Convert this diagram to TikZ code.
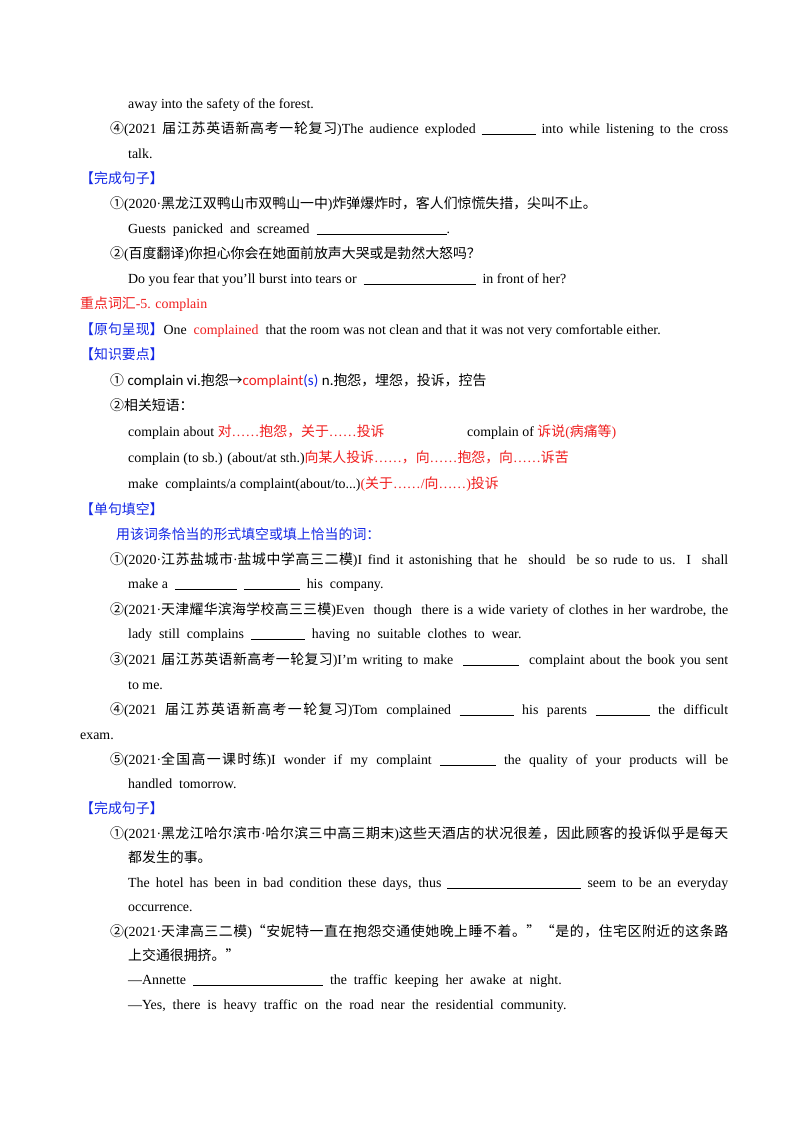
\documentclass[tikz,border=0pt]{standalone}
\usepackage{fontspec}
\setmainfont{Liberation Serif}
\newfontfamily\cjk{Noto Sans CJK SC}
\newfontfamily\carl{Carlito}
\newXeTeXintercharclass\cjkcl
\makeatletter
\def\setcl#1#2{\count255=#1 \loop\XeTeXcharclass\count255=\cjkcl \ifnum\count255<#2 \advance\count255 1 \repeat}
\setcl{"4E00}{"9FFF}
\setcl{"3000}{"303F}
\setcl{"FF00}{"FFEF}
\setcl{"2460}{"24FF}
\setcl{"2190}{"2193}
\XeTeXcharclass"201C=\cjkcl \XeTeXcharclass"201D=\cjkcl
\makeatother
\XeTeXinterchartokenstate=1
\XeTeXinterchartoks 0 \cjkcl = {\cjk}
\XeTeXinterchartoks 4095 \cjkcl = {\cjk}
\XeTeXinterchartoks \cjkcl 0 = {\rmfamily}
\XeTeXinterchartoks \cjkcl 4095 = {\rmfamily}
\XeTeXinterchartoks \cjkcl \cjkcl = {\hskip 0pt plus 0.5pt}
\definecolor{rd}{RGB}{240,30,30}
\definecolor{bl}{RGB}{20,40,230}
\newcommand\bk[1]{\rule[-1.5pt]{#1}{0.5pt}}
\newcommand\J[1]{\makebox[618pt][s]{#1}}
\tikzset{t/.style={anchor=base west,inner sep=0pt,font=\fontsize{13.9}{16}\selectfont}}
\begin{document}
\begin{tikzpicture}[x=1pt,y=-1pt]
\useasboundingbox[fill=white](0,0) rectangle (800,1132);
\node[t] (l1) at (128,108) {away into the safety of the forest.};
\node[t] (l2) at (110,133) {\J{④(2021 届江苏英语新高考一轮复习)The audience exploded \bk{54pt} into while listening to the cross}};
\node[t] (l3) at (128,158) {talk.};
\node[t,text=bl] (l4) at (80,183) {【完成句子】};
\node[t] (l5) at (110,208) {①(2020·黑龙江双鸭山市双鸭山一中)炸弹爆炸时，客人们惊慌失措，尖叫不止。};
\node[t] (l6) at (128,233) {Guests\ \ panicked\ \ and\ \ screamed\ \ \bk{130pt}.};
\node[t] (l7) at (110,258) {②(百度翻译)你担心你会在她面前放声大哭或是勃然大怒吗？};
\node[t] (l8) at (128,283) {Do you fear that you’ll burst into tears or\ \ \bk{112pt}\ \ in front of her?};
\node[t,text=rd] (l9) at (80,308) {重点词汇-5. complain};
\node[t] (l10) at (80,334) {\textcolor{bl}{【原句呈现】}One\ \ \textcolor{rd}{complained}\ \ that the room was not clean and that it was not very comfortable either.};
\node[t,text=bl] (l11) at (80,359) {【知识要点】};
\node[t] (l12) at (110,385) {① {\carl\fontsize{15}{17}\selectfont complain vi.}抱怨→{\carl\fontsize{15}{17}\selectfont\textcolor{rd}{complaint}\textcolor{bl}{(s)}} {\carl\fontsize{15}{17}\selectfont n.}抱怨，埋怨，投诉，控告};
\node[t] (l13) at (110,410) {②相关短语：};
\node[t] (l14) at (128,436) {complain about \textcolor{rd}{对……抱怨，关于……投诉}};
\node[t] (l14b) at (467,436) {complain of \textcolor{rd}{诉说(病痛等)}};
\node[t] (l15) at (128,462) {complain (to sb.) (about/at sth.)\textcolor{rd}{向某人投诉……，向……抱怨，向……诉苦}};
\node[t] (l16) at (128,488) {make\ \ complaints/a complaint(about/to...)\textcolor{rd}{(关于……/向……)投诉}};
\node[t,text=bl] (l17) at (80,514) {【单句填空】};
\node[t,text=bl] (l18) at (116,539) {用该词条恰当的形式填空或填上恰当的词：};
\node[t] (l19) at (110,564) {\J{①(2020·江苏盐城市·盐城中学高三二模)I find it astonishing that he\ \ should\ \ be so rude to us. I\ \ shall}};
\node[t] (l20) at (128,588) {make a\ \ \bk{62pt}\ \ \bk{56pt}\ \ his\ \ company.};
\node[t] (l21) at (110,614) {\J{②(2021·天津耀华滨海学校高三三模)Even\ \ though\ \ there is a wide variety of clothes in her wardrobe, the}};
\node[t] (l22) at (128,638) {lady\ \ still\ \ complains\ \ \bk{54pt}\ \ having\ \ no\ \ suitable\ \ clothes\ \ to\ \ wear.};
\node[t] (l23) at (110,664) {\J{③(2021 届江苏英语新高考一轮复习)I’m writing to make\ \ \bk{56pt}\ \ complaint about the book you sent}};
\node[t] (l24) at (128,689) {to me.};
\node[t] (l25) at (110,714) {\J{④(2021 届江苏英语新高考一轮复习)Tom complained \bk{54pt} his parents \bk{54pt} the difficult}};
\node[t] (l26) at (80,739) {exam.};
\node[t] (l27) at (110,764) {\J{⑤(2021·全国高一课时练)I wonder if my complaint \bk{56pt} the quality of your products will be}};
\node[t] (l28) at (128,788) {handled\ \ tomorrow.};
\node[t,text=bl] (l29) at (80,813) {【完成句子】};
\node[t] (l30) at (110,838) {\J{①(2021·黑龙江哈尔滨市·哈尔滨三中高三期末)这些天酒店的状况很差，因此顾客的投诉似乎是每天}};
\node[t] (l31) at (128,862) {都发生的事。};
\node[t] (l32) at (128,887) {\makebox[600pt][s]{The hotel has been in bad condition these days, thus \bk{134pt} seem to be an everyday}};
\node[t] (l33) at (128,911) {occurrence.};
\node[t] (l34) at (110,936) {\J{②(2021·天津高三二模)“安妮特一直在抱怨交通使她晚上睡不着。”“是的，住宅区附近的这条路}};
\node[t] (l35) at (128,960) {上交通很拥挤。”};
\node[t] (l36) at (128,984) {—Annette\ \ \bk{130pt}\ \ the\ \ traffic\ \ keeping\ \ her\ \ awake\ \ at\ \ night.};
\node[t] (l37) at (128,1009) {—Yes,\ \ there\ \ is\ \ heavy\ \ traffic\ \ on\ \ the\ \ road\ \ near\ \ the\ \ residential\ \ community.};
\end{tikzpicture}
\end{document}
